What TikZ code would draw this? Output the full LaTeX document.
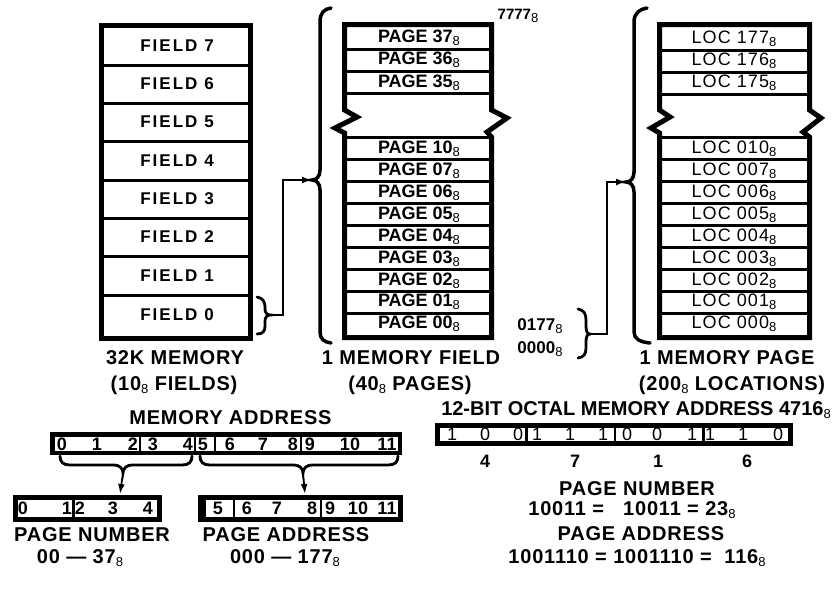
\documentclass[tikz,border=0pt]{standalone}
\usepackage{fontspec}
\setmainfont{Liberation Sans}
\newfontfamily\lsA[LetterSpace=4]{Liberation Sans}
\newfontfamily\lsF[LetterSpace=12]{Liberation Sans}
\newfontfamily\lsL[LetterSpace=6]{Liberation Sans}
\newfontfamily\subfnt{Liberation Sans}
\usetikzlibrary{arrows.meta}
\newcommand{\sube}{\raisebox{-3pt}{\subfnt\mdseries\fontsize{13}{13}\selectfont 8}}
\tikzset{
  fld/.style={inner sep=0pt, font={\lsF\bfseries\fontsize{17}{19}\selectfont}},
  pg/.style={inner sep=0pt, font={\bfseries\fontsize{18}{20}\selectfont}},
  lc/.style={inner sep=0pt, font={\lsL\fontsize{18}{20}\selectfont}},
  lab/.style={inner sep=0pt, font={\lsA\bfseries\fontsize{20}{22}\selectfont}},
  labn/.style={inner sep=0pt, font={\bfseries\fontsize{20}{22}\selectfont}},
  num/.style={inner sep=0pt, font={\bfseries\fontsize{17}{19}\selectfont}},
  bit/.style={inner sep=0pt, font={\bfseries\fontsize{18}{20}\selectfont}},
  bitr/.style={inner sep=0pt, font={\fontsize{18}{20}\selectfont}},
  outer/.style={line width=5pt, fill=white, line join=miter},
  sepline/.style={line width=3pt},
  bar/.style={line width=4.5pt, fill=white},
  barsep/.style={line width=2.5pt},
  bigbrace/.style={line width=3.5pt, line cap=round},
  brc/.style={line width=2.8pt, line cap=round},
  conn/.style={line width=1.8pt, -{Latex[length=10pt,width=7pt]}},
}
\begin{document}
\begin{tikzpicture}[x=1pt,y=-1pt]
\useasboundingbox (0,0) rectangle (837,592);
\fill[white] (0,0) rectangle (837,592);

% ---------------- 32K memory (fields)
\draw[outer] (101.5,25) rectangle (250.5,338);
\foreach \yy in {65,103,141.5,180,218,256.5,295}
  \draw[sepline] (101.5,\yy) -- (250.5,\yy);
\node[fld] (f7) at (177,46) {FIELD 7};
\node[fld] (f6) at (177,84) {FIELD 6};
\node[fld] (f5) at (177,122) {FIELD 5};
\node[fld] (f4) at (177,161) {FIELD 4};
\node[fld] (f3) at (177,199) {FIELD 3};
\node[fld] (f2) at (177,237) {FIELD 2};
\node[fld] (f1) at (177,276) {FIELD 1};
\node[fld] (f0) at (177,315) {FIELD 0};
\node[lab] (memlab) at (175,358) {32K MEMORY};
\node[lab] (memsub) at (174,385) {(10\sube{} FIELDS)};

% field 0 brace
\draw[brc] (257,297) .. controls (263,298) and (265,302) .. (265,307) -- (265,309)
  .. controls (265,313) and (267,315) .. (271,315)
  .. controls (267,315) and (265,317) .. (265,321) -- (265,326)
  .. controls (265,331) and (263,334) .. (257,334);
\coordinate (f0tip) at (271,315);

% big brace (memory field)
\draw[bigbrace] (331,8) .. controls (324,9) and (320,13) .. (320,22) -- (320,170)
  .. controls (320,177) and (316,180) .. (312,180)
  .. controls (316,180) and (320,183) .. (320,190) -- (320,332)
  .. controls (320,339) and (324,342) .. (331,343);
\coordinate (pgtip) at (312,180);
\draw[conn] (f0tip) -- ++(12,0) |- (pgtip);

% ---------------- memory field (pages)
\draw[outer] (344.5,24.5) -- (491.5,24.5) -- (491.5,110) -- (507,118) -- (487,132) -- (491.5,137)
  -- (491.5,337.5) -- (344.5,337.5) -- (344.5,133) -- (335,128) -- (357,117) -- (344.5,110) -- cycle;
\foreach \yy in {49,71,93.5,137.9,159.8,181.7,203.6,225.5,247.4,269.3,291.2,313.1}
  \draw[sepline] (344.5,\yy) -- (491.5,\yy);
\node[pg] (p37) at (419,38) {PAGE 37\sube};
\node[pg] (p36) at (419,60) {PAGE 36\sube};
\node[pg] (p35) at (419,82.3) {PAGE 35\sube};
\node[pg] (p10) at (419,148.9) {PAGE 10\sube};
\node[pg] (p07) at (419,170.8) {PAGE 07\sube};
\node[pg] (p06) at (419,192.7) {PAGE 06\sube};
\node[pg] (p05) at (419,214.6) {PAGE 05\sube};
\node[pg] (p04) at (419,236.5) {PAGE 04\sube};
\node[pg] (p03) at (419,258.4) {PAGE 03\sube};
\node[pg] (p02) at (419,280.3) {PAGE 02\sube};
\node[pg] (p01) at (419,302.2) {PAGE 01\sube};
\node[pg] (p00) at (419,324.1) {PAGE 00\sube};
\node[num, font={\bfseries\fontsize{15}{17}\selectfont}] (top7777) at (518,16) {7777\sube};
\node[num] (a0177) at (540,326) {0177\sube};
\node[num] (a0000) at (540,349) {0000\sube};
\node[lab] (fieldlab) at (411,358) {1 MEMORY FIELD};
\node[lab] (fieldsub) at (410,385) {(40\sube{} PAGES)};

% brace after 0177/0000
\draw[brc] (578,309) .. controls (584,310) and (586,314) .. (586,320) -- (586,326)
  .. controls (586,331) and (587,334) .. (590,334)
  .. controls (587,334) and (586,337) .. (586,342) -- (586,348)
  .. controls (586,354) and (584,357) .. (578,358);
\coordinate (ptip) at (590,334);

% big brace (memory page)
\draw[bigbrace] (647,8) .. controls (640,9) and (634,13) .. (634,22) -- (634,172)
  .. controls (634,179) and (630,182) .. (626,182)
  .. controls (630,182) and (634,185) .. (634,192) -- (634,332)
  .. controls (634,339) and (640,342) .. (650,343);
\coordinate (loctip) at (626,182);
\draw[conn] (ptip) -- ++(17,0) |- (loctip);

% ---------------- memory page (locations)
\draw[outer] (659.5,24.5) -- (809.5,24.5) -- (809.5,110) -- (821,118) -- (803,132) -- (809.5,137)
  -- (809.5,337.5) -- (659.5,337.5) -- (659.5,133) -- (651,128) -- (670,117) -- (659.5,110) -- cycle;
\foreach \yy in {50,72,94,137.9,159.8,181.7,203.6,225.5,247.4,269.3,291.2,313.1}
  \draw[sepline] (659.5,\yy) -- (809.5,\yy);
\node[lc] (l177) at (734,38.5) {LOC 177\sube};
\node[lc] (l176) at (734,61) {LOC 176\sube};
\node[lc] (l175) at (734,83) {LOC 175\sube};
\node[lc] (l010) at (734,148.9) {LOC 010\sube};
\node[lc] (l007) at (734,170.8) {LOC 007\sube};
\node[lc] (l006) at (734,192.7) {LOC 006\sube};
\node[lc] (l005) at (734,214.6) {LOC 005\sube};
\node[lc] (l004) at (734,236.5) {LOC 004\sube};
\node[lc] (l003) at (734,258.4) {LOC 003\sube};
\node[lc] (l002) at (734,280.3) {LOC 002\sube};
\node[lc] (l001) at (734,302.2) {LOC 001\sube};
\node[lc] (l000) at (734,324.1) {LOC 000\sube};
\node[lab] (pagelab) at (727,358) {1 MEMORY PAGE};
\node[lab] (pagesub) at (732,385) {(200\sube{} LOCATIONS)};

% ---------------- memory address bar
\node[lab] (malab) at (230.5,418) {MEMORY ADDRESS};
\draw[bar] (52.5,434.5) rectangle (400,453);
\foreach \xx in {140,195,215,301}
  \draw[barsep] (\xx,434.5) -- (\xx,453);
\foreach \xx/\t in {62/0,97/1,133/2,153/3,188/4,203/5,230/6,263/7,293/8,310/9,350/10,387/11}
  \node[bit] at (\xx,444) {\t};

% underbraces
\draw[brc] (60,456) .. controls (60,462) and (63,465) .. (70,465) -- (114,465)
  .. controls (119,465) and (123,468) .. (123,473)
  .. controls (123,468) and (127,465) .. (132,465) -- (182,465)
  .. controls (189,465) and (192,462) .. (192,456);
\draw[brc] (200,456) .. controls (200,462) and (203,465) .. (210,465) -- (294,465)
  .. controls (299,465) and (303,468) .. (303,473)
  .. controls (303,468) and (307,465) .. (312,465) -- (388,465)
  .. controls (395,465) and (398,462) .. (398,456);
\coordinate (ub1) at (123,473);
\coordinate (ub2) at (303,473);
\coordinate (pnin) at (120,494);
\coordinate (pain) at (305,494);
\draw[conn] (ub1) -- (pnin);
\draw[conn] (ub2) -- (pain);

% page number box
\draw[bar, line width=5pt] (15.5,497.5) rectangle (159.5,519.5);
\draw[barsep] (73.5,497.5) -- (73.5,519.5);
\foreach \xx/\t in {23/0,67/1,80/2,113/3,148/4}
  \node[bit] at (\xx,508.5) {\t};
\node[lab] (pnlab) at (92,535) {PAGE NUMBER};
\node[lab] (pnrange) at (80,558) {00 — 37\sube};

% page address box
\draw[bar, line width=5pt] (200.5,497.5) rectangle (400,519.5);
\draw[line width=3pt] (204,497.5) -- (204,519.5);
\foreach \xx in {234,321}
  \draw[barsep] (\xx,497.5) -- (\xx,519.5);
\foreach \xx/\t in {218/5,247/6,277/7,312/8,330/9,358/10,387/11}
  \node[bit] at (\xx,508.5) {\t};
\node[lab] (palab) at (286,535) {PAGE ADDRESS};
\node[lab] (parange) at (285,558) {000 — 177\sube};

% ---------------- 12-bit octal example
\node[labn] (octlab) at (636,410) {12-BIT OCTAL MEMORY ADDRESS 4716\sube};
\draw[bar] (437.5,425.5) rectangle (790.5,443.5);
\foreach \xx in {526.5,615,703.5}
  \draw[barsep] (\xx,425.5) -- (\xx,443.5);
\foreach \xx/\t in {452/1,485/0,518/0,537/1,570/1,603/1,627/0,657/0,692/1,710/1,743/1,778/0}
  \node[bitr] at (\xx,434.5) {\t};
\foreach \xx/\t in {485/4,575/7,658/1,747/6}
  \node[bit] at (\xx,461) {\t};
\node[lab] (pn2) at (637,489) {PAGE NUMBER};
\node[lab] (pn2v) at (632,510) {10011 =\ \ \ 10011 = 23\sube};
\node[lab] (pa2) at (641,534) {PAGE ADDRESS};
\node[lab] (pa2v) at (637,558) {1001110 = 1001110 =\ \ 116\sube};
\end{tikzpicture}
\end{document}
